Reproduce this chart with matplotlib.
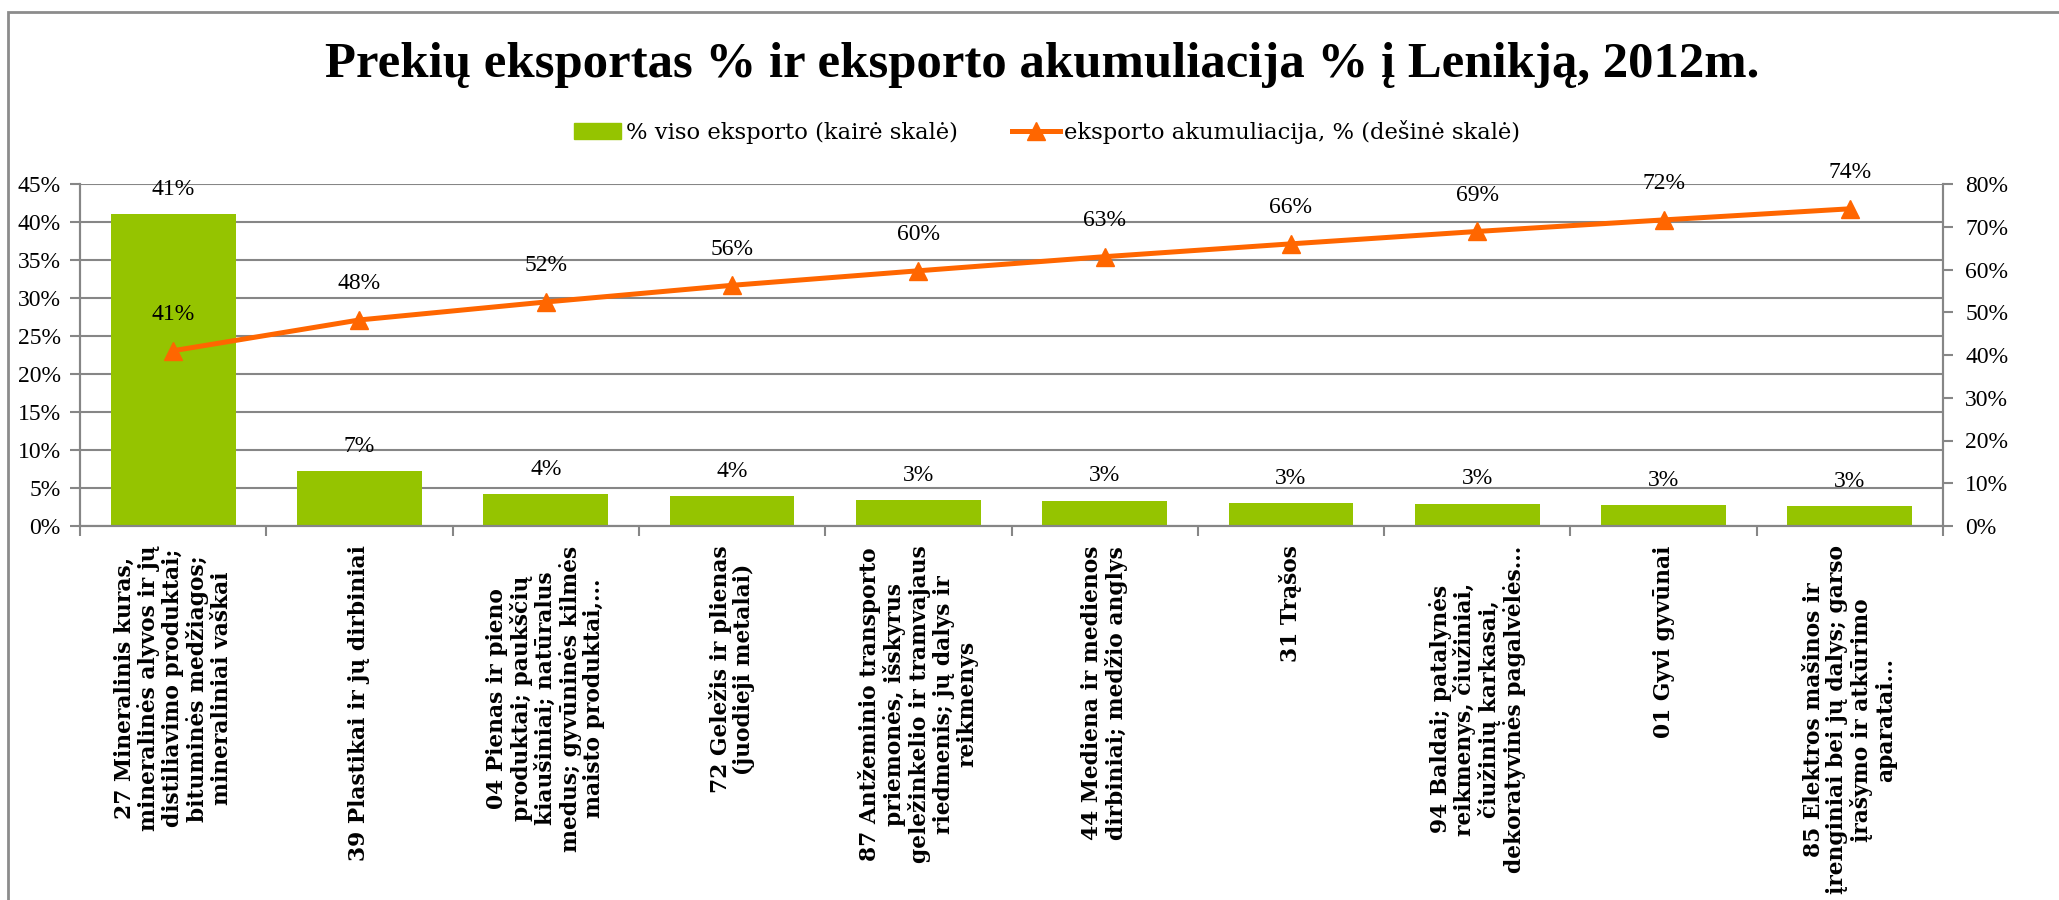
import numpy as np
import matplotlib.pyplot as plt
from matplotlib.lines import Line2D
from matplotlib.patches import Patch, Rectangle

plt.rcParams['font.family'] = ['Liberation Serif', 'DejaVu Serif']

# data
categories = [
    "27 Mineralinis kuras,\nmineralinės alyvos ir jų\ndistiliavimo produktai;\nbituminės medžiagos;\nmineraliniai vaškai",
    "39 Plastikai ir jų dirbiniai",
    "04 Pienas ir pieno\nproduktai; paukščių\nkiaušiniai; natūralus\nmedus; gyvūninės kilmės\nmaisto produktai,...",
    "72 Geležis ir plienas\n(juodieji metalai)",
    "87 Antžeminio transporto\npriemonės, išskyrus\ngeležinkelio ir tramvajaus\nriedmenis; jų dalys ir\nreikmenys",
    "44 Mediena ir medienos\ndirbiniai; medžio anglys",
    "31 Trąšos",
    "94 Baldai; patalynės\nreikmenys, čiužiniai,\nčiužinių karkasai,\ndekoratyvinės pagalvėlės...",
    "01 Gyvi gyvūnai",
    "85 Elektros mašinos ir\nįrenginiai bei jų dalys; garso\nįrašymo ir atkūrimo\naparatai...",
]
share = [41.0, 7.2, 4.2, 3.9, 3.4, 3.3, 3.0, 2.9, 2.7, 2.6]
cumulative = [41.0, 48.2, 52.4, 56.3, 59.7, 63.0, 66.0, 68.9, 71.6, 74.2]
left_ticks = [0, 5, 10, 15, 20, 25, 30, 35, 40, 45]
right_ticks = [0, 10, 20, 30, 40, 50, 60, 70, 80]

green = '#95C400'
orange = '#FF6600'
gray = '#868686'

fig = plt.figure(figsize=(20.59, 9), dpi=100)
ax = fig.add_axes([80 / 2059, 1 - 526 / 900, (1943 - 80) / 2059, (526 - 184) / 900])
x = np.arange(len(categories))

bars = ax.bar(x, share, width=0.67, color=green, zorder=2)
for xi, v in zip(x, share):
    ax.annotate(f"{round(v)}%", (xi, v), xytext=(0, 18), textcoords='offset points',
                ha='center', va='center', fontsize=17)

ax.set_xlim(-0.5, len(categories) - 0.5)
ax.set_ylim(0, 45)
ax.set_yticks(left_ticks)
ax.set_yticklabels([f"{t}%" for t in left_ticks], fontsize=17)
ax.yaxis.grid(True, color=gray, lw=1.5)
ax.set_axisbelow(True)

ax.set_xticks(x)
ax.set_xticklabels(categories, rotation=90, ha='center', va='top', fontsize=15.7,
                   fontweight='bold', family='DejaVu Serif', multialignment='center',
                   linespacing=1.1)
ax.tick_params(axis='x', which='major', length=0, pad=14)
ax.set_xticks(np.arange(-0.5, len(categories), 1), minor=True)
ax.tick_params(axis='x', which='minor', length=7, color=gray, width=1.5)
ax.tick_params(axis='y', length=7, color=gray, width=1.5, pad=7)

ax2 = ax.twinx()
ax2.plot(x, cumulative, color=orange, lw=3.6, marker='^', ms=13, zorder=3)
for xi, v in zip(x, cumulative):
    ax2.annotate(f"{round(v)}%", (xi, v), xytext=(0, 26), textcoords='offset points',
                 ha='center', va='center', fontsize=17)
ax2.set_ylim(0, 80)
ax2.set_yticks(right_ticks)
ax2.set_yticklabels([f"{t}%" for t in right_ticks], fontsize=17)
ax2.tick_params(axis='y', length=7, color=gray, width=1.5, pad=9)

for a in (ax, ax2):
    a.spines['top'].set_visible(False)
    for s in ('left', 'right', 'bottom'):
        a.spines[s].set_color(gray)
        a.spines[s].set_linewidth(1.5)

fig.text(0.506, 1 - 65 / 900, "Prekių eksportas % ir eksporto akumuliacija % į Lenikją, 2012m.",
         ha='center', va='center', fontsize=36.5, fontweight='bold')

handles = [Patch(color=green),
           Line2D([0], [0], color=orange, lw=3.6, marker='^', ms=13)]
fig.legend(handles, ["% viso eksporto (kairė skalė)", "eksporto akumuliacija, % (dešinė skalė)"],
           loc='center', bbox_to_anchor=(0.5085, 1 - 132 / 900), ncol=2, frameon=False,
           prop={'family': 'DejaVu Serif', 'size': 16.3}, handlelength=2.1,
           handletextpad=0.2, columnspacing=2.4)

fig.patches.append(Rectangle((8 / 2059, -0.1), 1.2, 1.1 - 12 / 900, transform=fig.transFigure,
                             fill=False, ec='#8C8C8C', lw=2))

fig.savefig('out.png', dpi=100)
